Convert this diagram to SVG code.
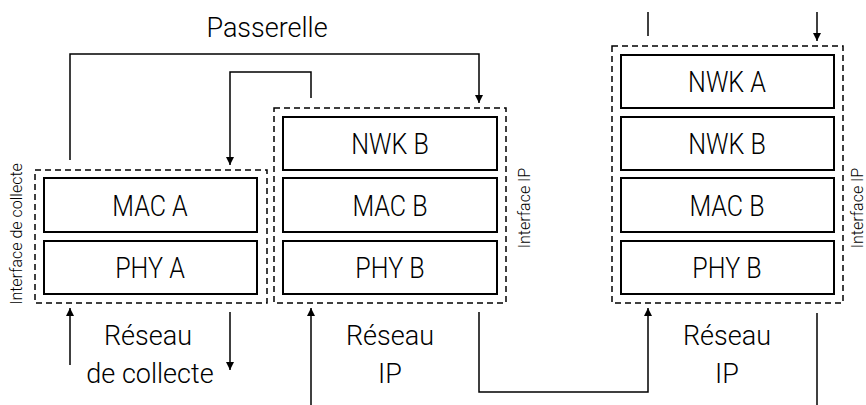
<svg xmlns="http://www.w3.org/2000/svg" width="866" height="405" viewBox="0 0 866 405">
<defs>
<marker id="ah" markerWidth="8" markerHeight="8" refX="8" refY="4" orient="auto" markerUnits="userSpaceOnUse">
<path d="M0,0 L8,4 L0,8 Z" fill="#000"/>
</marker>
<style>
.box{fill:#fff;stroke:#000;stroke-width:2}
.dash{fill:none;stroke:#000;stroke-width:1.5;stroke-dasharray:6,4}
.ln{fill:none;stroke:#000;stroke-width:1.5}
.t{font-family:Roboto,"Liberation Sans",sans-serif;font-weight:300;font-size:27px;text-anchor:middle;fill:#000}
.b{font-family:Roboto,"Liberation Sans",sans-serif;font-weight:300;font-size:29.5px;text-anchor:middle;fill:#000}
.s{font-family:Roboto,"Liberation Sans",sans-serif;font-weight:300;font-size:16px;text-anchor:middle;fill:#000}
</style>
</defs>
<rect width="866" height="405" fill="#fff"/>
<g id="stackA">
<rect class="dash" x="35" y="170" width="232" height="133"/>
<g id="macA"><rect class="box" x="44" y="178" width="213" height="54"/><text class="b" transform="translate(150,216) scale(0.85,1)">MAC A</text></g>
<g id="phyA"><rect class="box" x="44" y="241" width="213" height="53"/><text class="b" transform="translate(150,278) scale(0.85,1)">PHY A</text></g>
<text class="s" transform="translate(22,234) rotate(-90)">Interface de collecte</text>
</g>
<g id="stackB">
<rect class="dash" x="274" y="108" width="232" height="195"/>
<g id="nwkB"><rect class="box" x="283" y="117" width="214" height="53"/><text class="b" transform="translate(390,154) scale(0.85,1)">NWK B</text></g>
<g id="macB"><rect class="box" x="283" y="178" width="214" height="54"/><text class="b" transform="translate(390,216) scale(0.85,1)">MAC B</text></g>
<g id="phyB"><rect class="box" x="283" y="241" width="214" height="53"/><text class="b" transform="translate(390,278) scale(0.85,1)">PHY B</text></g>
<text class="s" transform="translate(530,208) rotate(-90)">Interface IP</text>
</g>
<g id="stackC">
<rect class="dash" x="612" y="46" width="231" height="257"/>
<g id="nwkA2"><rect class="box" x="621" y="55" width="213" height="53"/><text class="b" transform="translate(727,92) scale(0.85,1)">NWK A</text></g>
<g id="nwkB2"><rect class="box" x="621" y="117" width="213" height="53"/><text class="b" transform="translate(727,154) scale(0.85,1)">NWK B</text></g>
<g id="macB2"><rect class="box" x="621" y="178" width="213" height="54"/><text class="b" transform="translate(727,216) scale(0.85,1)">MAC B</text></g>
<g id="phyB2"><rect class="box" x="621" y="241" width="213" height="53"/><text class="b" transform="translate(727,278) scale(0.85,1)">PHY B</text></g>
<text class="s" transform="translate(863,208) rotate(-90)">Interface IP</text>
</g>
<g id="labels">
<text class="t" x="267" y="37">Passerelle</text>
<text class="t" x="148" y="345">Réseau</text>
<text class="t" x="150" y="383">de collecte</text>
<text class="t" x="390" y="345">Réseau</text>
<text class="t" x="390" y="383">IP</text>
<text class="t" x="727" y="345">Réseau</text>
<text class="t" x="727" y="383">IP</text>
</g>
<g id="connectors">
<polyline class="ln" points="70,160 70,54 479,54 479,103" marker-end="url(#ah)"/>
<polyline class="ln" points="311,98 311,72 230,72 230,165" marker-end="url(#ah)"/>
<line class="ln" x1="70" y1="365" x2="70" y2="308" marker-end="url(#ah)"/>
<line class="ln" x1="230" y1="312" x2="230" y2="370" marker-end="url(#ah)"/>
<line class="ln" x1="311" y1="405" x2="311" y2="308" marker-end="url(#ah)"/>
<polyline class="ln" points="479,312 479,392 648,392 648,308" marker-end="url(#ah)"/>
<line class="ln" x1="648" y1="12" x2="648" y2="36"/>
<line class="ln" x1="817" y1="12" x2="817" y2="41" marker-end="url(#ah)"/>
<line class="ln" x1="817" y1="313" x2="817" y2="405"/>
</g>
</svg>
